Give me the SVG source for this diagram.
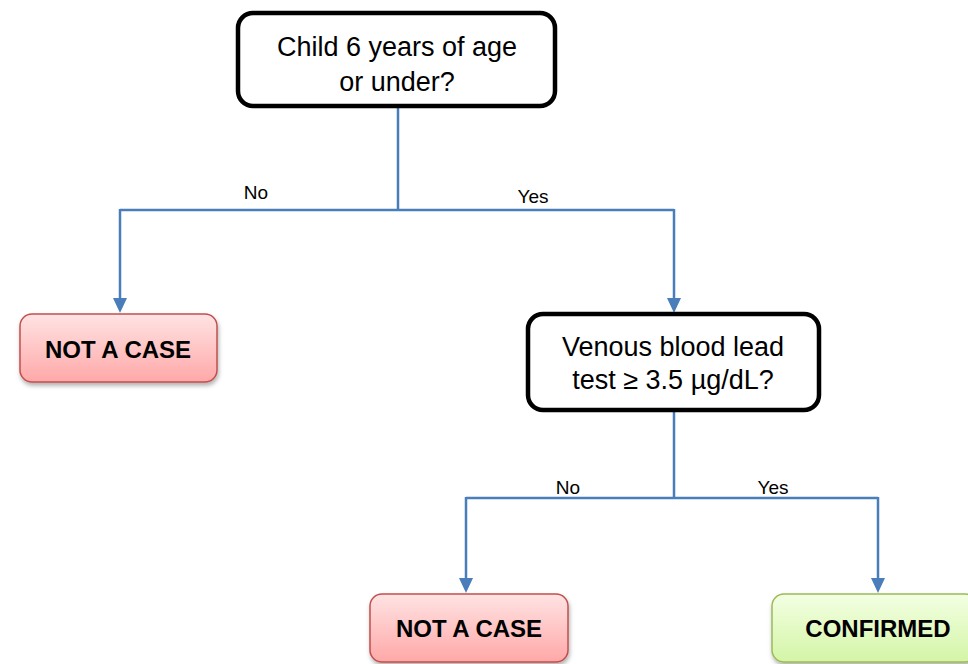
<svg xmlns="http://www.w3.org/2000/svg" width="968" height="664" viewBox="0 0 968 664">
<defs>
<linearGradient id="red" x1="0" y1="0" x2="0" y2="1"><stop offset="0" stop-color="#ffe3e3"/><stop offset="1" stop-color="#ffa8a8"/></linearGradient>
<linearGradient id="green" x1="0" y1="0" x2="0" y2="1"><stop offset="0" stop-color="#f3ffe3"/><stop offset="1" stop-color="#d4f5a6"/></linearGradient>
<filter id="sh" x="-10%" y="-10%" width="130%" height="140%"><feDropShadow dx="1" dy="3" stdDeviation="2" flood-color="#000" flood-opacity="0.3"/></filter>
</defs>
<style>
.q{fill:#fff;stroke:#000;stroke-width:4.5}
.r{fill:url(#red);stroke:#c0504d;stroke-width:1.5}
.g{fill:url(#green);stroke:#9bbb59;stroke-width:1.5}
.t{font-family:"Liberation Sans",Arial,sans-serif;font-size:27px;fill:#000;text-anchor:middle}
.b{font-family:"Liberation Sans",Arial,sans-serif;font-size:24px;font-weight:bold;fill:#000;text-anchor:middle}
.l{font-family:"Liberation Sans",Arial,sans-serif;font-size:19px;fill:#000;text-anchor:middle}
.c{fill:none;stroke:#4a7ebb;stroke-width:2.5}
.h{fill:#4a7ebb}
</style>
<g id="connectors">
<path class="c" d="M398,106 V210 M120,210 H674 M120,209 V300 M674,209 V300"/>
<path class="h" d="M113,298 L127,298 L120,313 Z"/>
<path class="h" d="M667,298 L681,298 L674,313 Z"/>
<path class="c" d="M674,410 V498 M466,498 H878 M466,497 V580 M878,497 V580"/>
<path class="h" d="M459,578 L473,578 L466,593 Z"/>
<path class="h" d="M871,578 L885,578 L878,593 Z"/>
<text class="l" x="256" y="199">No</text>
<text class="l" x="533" y="203">Yes</text>
<text class="l" x="568" y="494">No</text>
<text class="l" x="773" y="494">Yes</text>
</g>
<g id="q1">
<rect class="q" x="238" y="13" width="317" height="93" rx="15"/>
<text class="t" x="397" y="56">Child 6 years of age</text>
<text class="t" x="397" y="91">or under?</text>
</g>
<g id="nc1">
<rect class="r" x="20" y="314" width="197" height="68" rx="12" filter="url(#sh)"/>
<text class="b" x="118" y="358">NOT A CASE</text>
</g>
<g id="q2">
<rect class="q" x="528" y="314" width="291" height="96" rx="15"/>
<text class="t" x="673" y="356">Venous blood lead</text>
<text class="t" x="673" y="389">test ≥ 3.5 µg/dL?</text>
</g>
<g id="nc2">
<rect class="r" x="370" y="594" width="198" height="68" rx="12" filter="url(#sh)"/>
<text class="b" x="469" y="637">NOT A CASE</text>
</g>
<g id="conf">
<rect class="g" x="772" y="594" width="205" height="68" rx="12" filter="url(#sh)"/>
<text class="b" x="878" y="637">CONFIRMED</text>
</g>
</svg>
